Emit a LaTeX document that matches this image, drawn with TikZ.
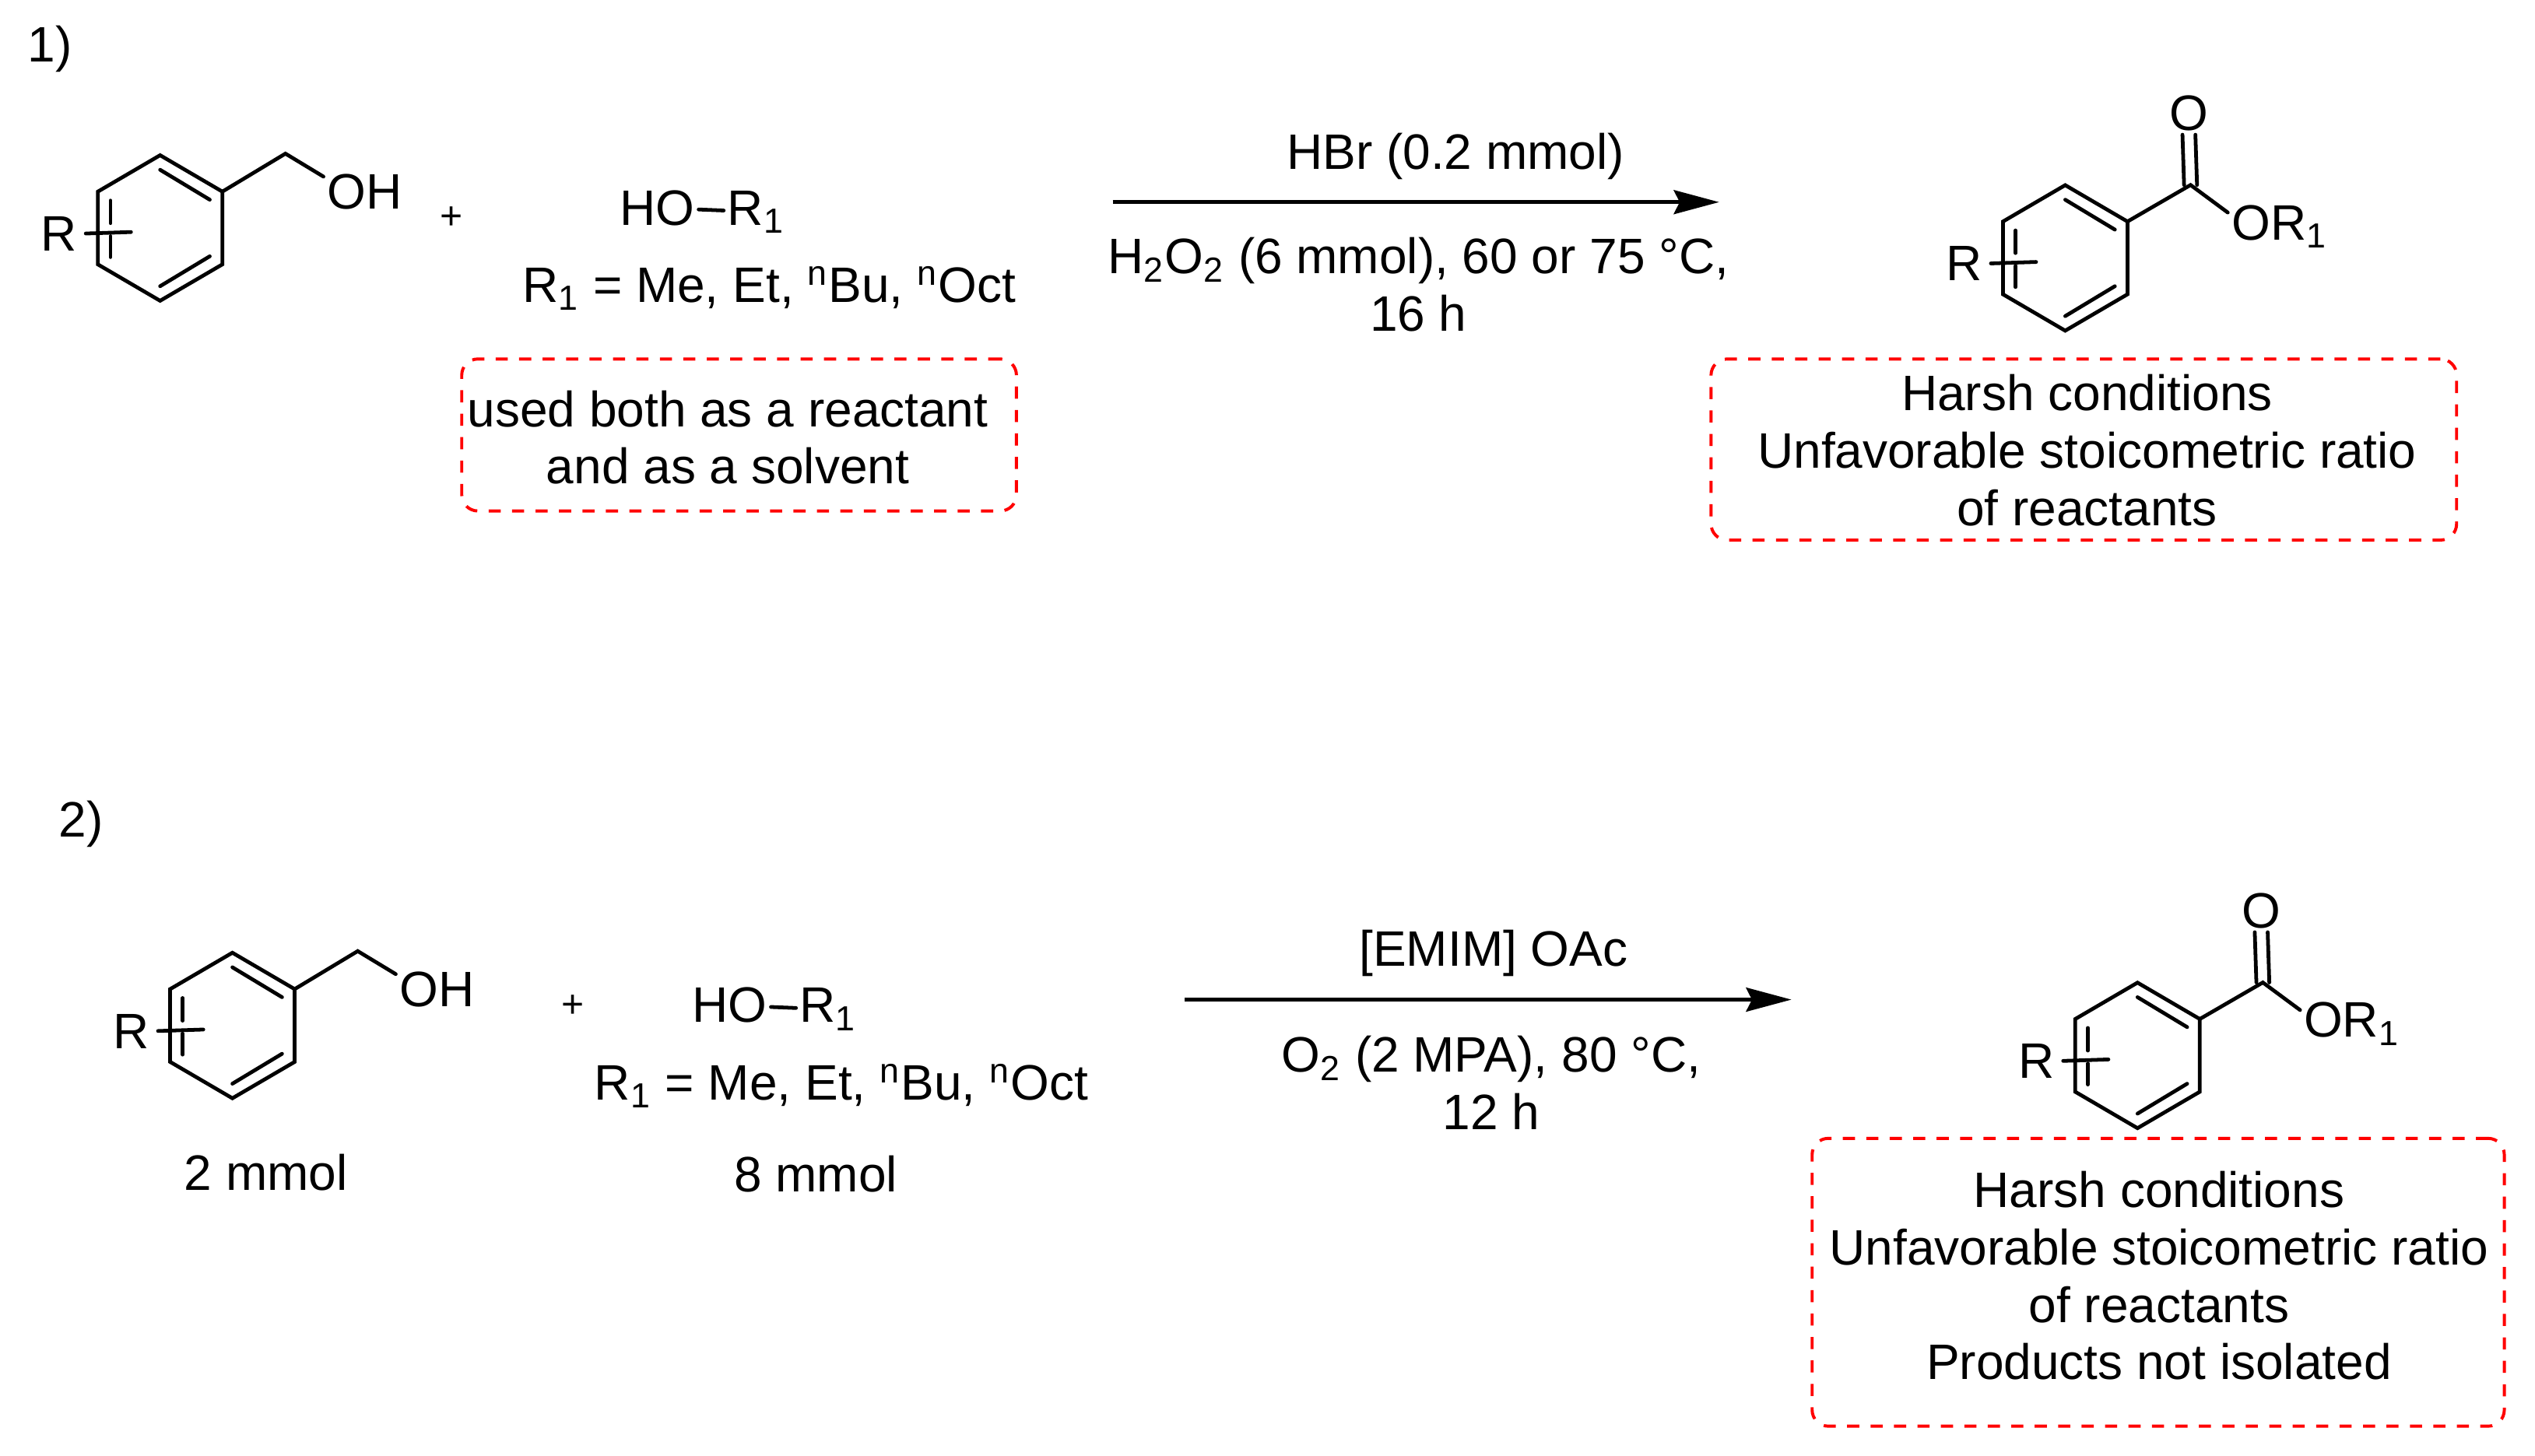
\documentclass[tikz,border=0pt]{standalone}
\usepackage{fontspec}
\setmainfont{Liberation Sans}
\usetikzlibrary{arrows.meta,positioning}

\begin{document}
\begin{tikzpicture}[
	x=0.5pt,y=-0.5pt,
	bond/.style={line width=1.15pt,line cap=round,line join=miter},
	lbl/.style={inner sep=1pt,align=center,font=\fontsize{15.4}{17.75}\selectfont},
	note/.style={draw=red,line width=0.95pt,dash pattern=on 3.75pt off 3.5pt,rounded corners=5pt,inner sep=0},
	rxn/.style={line width=1.15pt,-{Stealth[length=14pt,width=7.4pt,inset=1.8pt]}},
	ring/.pic={
		\draw[bond] (0,-45) -- (38.5,-22.5) -- (38.5,22.5) -- (0,45) -- (-38.5,22.5) -- (-38.5,-22.5) -- cycle;
		\draw[bond] (0,-36) -- (30.7,-17.5);
		\draw[bond] (0,36) -- (30.7,17.5);
		\draw[bond] (-30.7,-17) -- (-30.7,-3);
		\draw[bond] (-30.7,5) -- (-30.7,18);
		\coordinate (-v) at (38.5,-22.5);
		\coordinate (-e) at (-18,2.5);
		\node[lbl] (-r) at (-62.5,3.5) {R};
		\draw[bond,shorten <=1.5pt] (-r.east) -- (-e);
	},
]
\useasboundingbox (0,0) rectangle (1567.5,900.4);
\node[lbl] (one) at (31,30.5) {1)};
\node[lbl] (two) at (50,509.5) {2)};
\node[lbl,font=\fontsize{12}{14}\selectfont] (plusa) at (279,135) {+};
\node[lbl,font=\fontsize{12}{14}\selectfont] (plusb) at (354,622.5) {+};
\foreach \s/\dx/\dy in {a/0/0,b/44.7/493.2}{
	\begin{scope}[shift={(\dx,\dy)}]
		\pic (alc\s) at (99,141) {ring};
		\coordinate (ch\s) at (176.5,95);
		\node[lbl] (oh\s) at (225.5,118.5) {OH};
		\draw[bond] (alc\s-v) -- (ch\s) -- (oh\s.160);
		\node[lbl] (ho\s) at (406.5,128.5) {HO};
		\node[lbl] (ra\s) at (467.5,131) {R\textsubscript{1}};
		\draw[bond] (ho\s) -- (ra\s);
		\node[lbl] (list\s) at (475.5,178.5) {R\textsubscript{1} = Me, Et, \textsuperscript{n}Bu, \textsuperscript{n}Oct};
		\coordinate (in\s) at (688,125);
		\coordinate (out\s) at (1063,125);
		\draw[rxn] (in\s) -- (out\s);
		\pic (est\s) at (1277,159.5) {ring};
		\coordinate (co\s) at (1354.5,114.4);
		\node[lbl] (o\s) at (1353.5,70) {O};
		\draw[bond] ([xshift=-2pt]co\s) -- ([xshift=-2pt]o\s.south);
		\draw[bond] ([xshift=2pt]co\s) -- ([xshift=2pt]o\s.south);
		\node[lbl] (or\s) at (1409.5,140) {OR\textsubscript{1}};
		\draw[bond] (est\s-v) -- (co\s) -- (or\s.165);
	\end{scope}
}
\node[lbl] (mma) at (164.5,725) {2 mmol};
\node[lbl] (mmb) at (504.5,726) {8 mmol};
\node[lbl] (cata) at (900,96.5) {HBr (0.2 mmol)};
\node[lbl] (cona) at (877,176) {H\textsubscript{2}O\textsubscript{2} (6 mmol), 60 or 75 °C,\\16 h};
\node[lbl] (catb) at (923.5,589.5) {[EMIM] OAc};
\node[lbl] (conb) at (922,669.5) {O\textsubscript{2} (2 MPA), 80 °C,\\12 h};
\node[lbl] (usea) at (450,270.5) {used both as a reactant\\and as a solvent};
\node[note,minimum width=171.5pt,minimum height=47pt] (usebox) at (457,269) {};
\node[lbl] (hara) at (1290.5,278.5) {Harsh conditions\\Unfavorable stoicometric ratio\\of reactants};
\node[note,minimum width=230.5pt,minimum height=56pt] (harbox) at (1288.5,278) {};
\node[lbl] (harb) at (1335,789) {Harsh conditions\\Unfavorable stoicometric ratio\\of reactants\\Products not isolated};
\node[note,minimum width=214pt,minimum height=89pt] (harboxb) at (1334.5,793) {};
\end{tikzpicture}
\end{document}
